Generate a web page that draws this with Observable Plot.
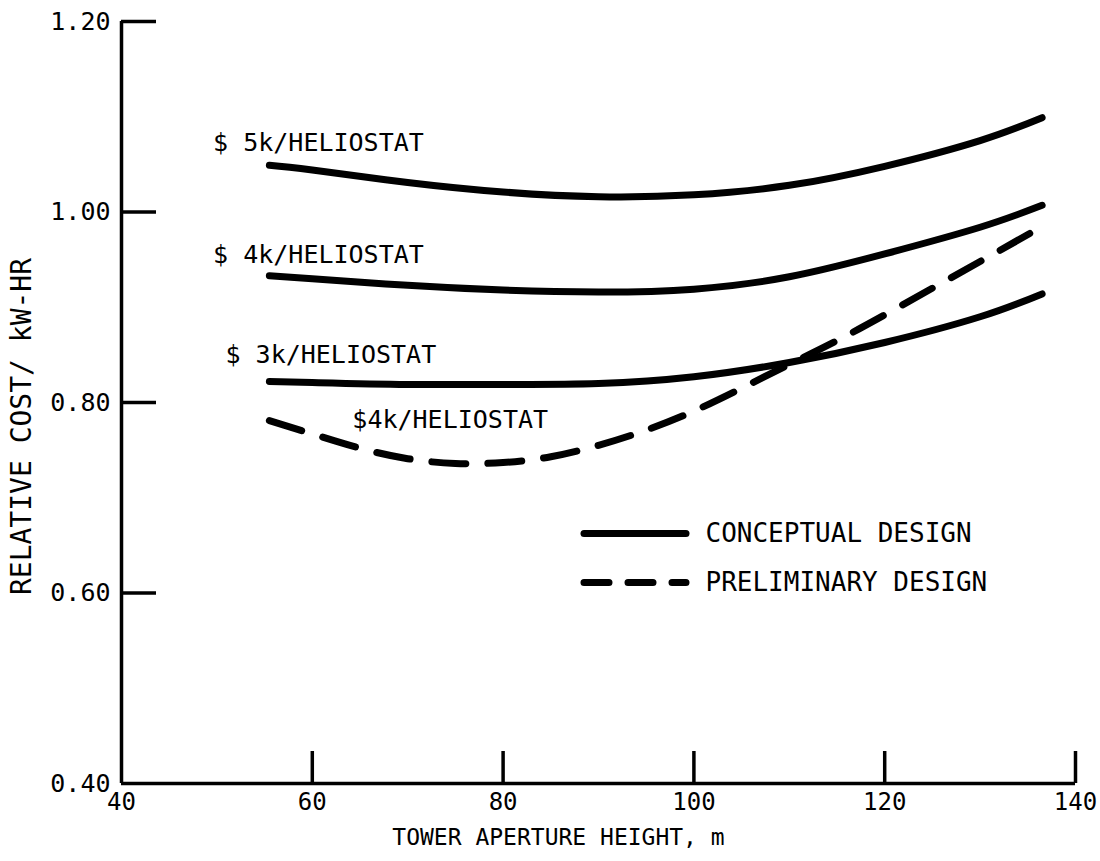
<!DOCTYPE html>
<html>
<head>
<meta charset="utf-8">
<script src="https://cdn.jsdelivr.net/npm/d3@7"></script>
<script src="https://cdn.jsdelivr.net/npm/@observablehq/plot@0.6"></script>
<style>
  html, body { margin: 0; padding: 0; background: #fff; }
  #chart svg { display: block; }
</style>
</head>
<body>
<div id="chart"></div>
<script>
// ---- data ----
const xTicks = [40, 60, 80, 100, 120, 140];
const yTicks = [0.40, 0.60, 0.80, 1.00, 1.20];

const x5k = [55.5, 60, 70, 80, 90, 100, 110, 120, 130, 136.5];
const y5k = [1.049, 1.044, 1.031, 1.021, 1.016, 1.018, 1.028, 1.048, 1.075, 1.099];

const x4k = [55.5, 60, 70, 80, 90, 100, 110, 120, 130, 136.5];
const y4k = [0.933, 0.930, 0.923, 0.918, 0.916, 0.919, 0.932, 0.956, 0.984, 1.007];

const x3k = [55.5, 60, 70, 80, 90, 100, 110, 120, 130, 136.5];
const y3k = [0.822, 0.821, 0.819, 0.819, 0.820, 0.827, 0.842, 0.863, 0.890, 0.914];

const xPre = [55.5, 60, 65, 70, 75, 80, 85, 90, 95, 100, 105, 110, 115, 120, 125, 130, 136];
const yPre = [0.781, 0.767, 0.752, 0.741, 0.736, 0.737, 0.743, 0.755, 0.771, 0.791, 0.815, 0.840, 0.865, 0.892, 0.920, 0.948, 0.982];

const curveLabels = ["$ 5k/HELIOSTAT", "$ 4k/HELIOSTAT", "$ 3k/HELIOSTAT", "$4k/HELIOSTAT"];
const labelX = [49.6, 49.6, 50.9, 64.2];
const labelY = [1.072, 0.955, 0.850, 0.782];

const legendLabels = ["CONCEPTUAL DESIGN", "PRELIMINARY DESIGN"];
const xTitle = "TOWER APERTURE HEIGHT, m";
const yTitle = "RELATIVE COST/ kW-HR";

// ---- build tables ----
const toRows = (xs, ys) => xs.map((x, i) => ({x, y: ys[i]}));
const solid = [toRows(x5k, y5k), toRows(x4k, y4k), toRows(x3k, y3k)];
const dashed = toRows(xPre, yPre);
const labels = curveLabels.map((t, i) => ({t, x: labelX[i], y: labelY[i]}));

const FONT = "DejaVu Sans Mono";
const W = 1100, H = 861;
const mL = 121, mR = 25, mT = 21, mB = 78;
const pxX = (100) / (W - mL - mR);      // data units per pixel (x)
const pxY = (0.8) / (H - mT - mB);      // data units per pixel (y)

const legendRows = [
  {t: legendLabels[0], y: 0.40 + (783 - 533) * pxY, dash: null},
  {t: legendLabels[1], y: 0.40 + (783 - 582) * pxY, dash: "25,19"}
];
const legX1 = 40 + (584 - mL) * pxX, legX2 = 40 + (686 - mL) * pxX, legTX = 40 + (705 - mL) * pxX;

const chart = Plot.plot({
  width: W, height: H,
  marginLeft: mL, marginRight: mR, marginTop: mT, marginBottom: mB,
  style: {fontFamily: FONT, background: "#fff", color: "#000"},
  x: {domain: [40, 140]},
  y: {domain: [0.4, 1.2]},
  marks: [
    // axes: tick labels only
    Plot.axisY(yTicks, {tickSize: 0, tickPadding: 11, tickFormat: d3.format(".2f"), fontSize: 25, label: null}),
    Plot.axisX(xTicks, {tickSize: 0, tickPadding: 9, tickFormat: d => String(d), fontSize: 24, label: null}),
    // axis lines
    Plot.ruleX([40], {stroke: "#000", strokeWidth: 3.5}),
    Plot.ruleY([0.4], {stroke: "#000", strokeWidth: 3.5}),
    // inward ticks
    Plot.ruleY(yTicks.filter(d => d > 0.4), {y: d => d, x1: 40, x2: 40 + 35 * pxX, stroke: "#000", strokeWidth: 3.5}),
    Plot.ruleX(xTicks.filter(d => d > 40), {x: d => d, y1: 0.4, y2: 0.4 + 32 * pxY, stroke: "#000", strokeWidth: 3.5}),
    // curves
    ...solid.map(rows => Plot.line(rows, {x: "x", y: "y", curve: "natural", stroke: "#000", strokeWidth: 7, strokeLinecap: "round"})),
    Plot.line(dashed, {x: "x", y: "y", curve: "natural", stroke: "#000", strokeWidth: 7, strokeLinecap: "round", strokeDasharray: "34,22"}),
    // curve labels
    Plot.text(labels, {x: "x", y: "y", text: "t", textAnchor: "start", lineAnchor: "middle", fontSize: 25, fill: "#000"}),
    // legend
    Plot.ruleY(legendRows.filter(d => !d.dash), {y: "y", x1: legX1, x2: legX2, stroke: "#000", strokeWidth: 7, strokeLinecap: "round"}),
    Plot.ruleY(legendRows.filter(d => d.dash), {y: "y", x1: legX1, x2: legX2, stroke: "#000", strokeWidth: 7, strokeLinecap: "round", strokeDasharray: "25,19"}),
    Plot.text(legendRows, {x: legTX, y: "y", text: "t", textAnchor: "start", lineAnchor: "middle", fontSize: 26, fill: "#000"}),
    // axis titles
    Plot.text([xTitle], {frameAnchor: "bottom", dy: 54, dx: -40, text: d => d, fontSize: 23, textAnchor: "middle", lineAnchor: "middle", fill: "#000"}),
    Plot.text([yTitle], {frameAnchor: "left", dx: -99, dy: 24, rotate: -90, text: d => d, fontSize: 28, textAnchor: "middle", lineAnchor: "middle", fill: "#000"})
  ]
});
document.getElementById("chart").appendChild(chart);
</script>
</body>
</html>
